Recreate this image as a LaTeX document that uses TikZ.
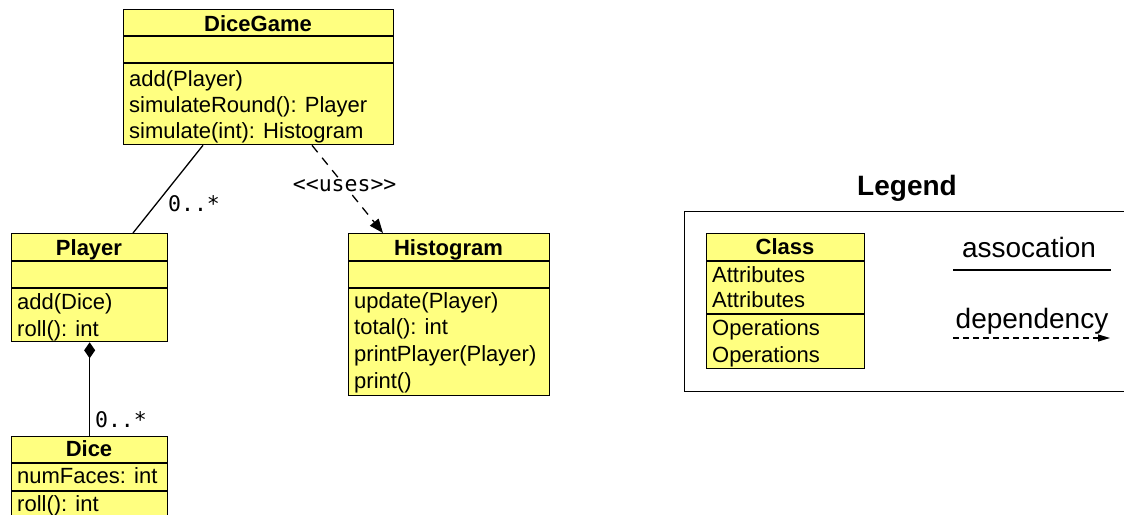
\documentclass[tikz,border=0pt]{standalone}
\usepackage{fontspec}
\setmainfont{Liberation Sans}
\setmonofont{DejaVu Sans Mono}
\usetikzlibrary{arrows.meta,calc}
\definecolor{umlyellow}{RGB}{255,255,128}
\tikzset{
 classbox/.style={draw=black, line width=1.3pt, fill=umlyellow, rectangle, inner sep=0pt, anchor=north west},
 sepline/.style={draw=black, line width=1.3pt},
 head/.style={font=\fontsize{22}{27}\selectfont\bfseries, anchor=base, inner sep=0pt},
 item/.style={font=\fontsize{22}{27}\selectfont, anchor=base west, inner sep=0pt},
 mult/.style={font=\fontsize{21.5}{26}\selectfont\ttfamily, inner sep=0pt},
 conn/.style={line width=1.3pt},
 dep/.style={conn, dash pattern=on 9pt off 7pt, -{Triangle[length=14pt,width=11pt]}},
}
\begin{document}
\begin{tikzpicture}[x=1pt,y=-1pt]
\useasboundingbox (0,0) rectangle (1124,514);
\clip (0,0) rectangle (1124,514);

% DiceGame
\node[classbox, minimum width=270pt, minimum height=135pt] (dg) at (123,9) {};
\draw[sepline] (123,36) -- (393,36);
\draw[sepline] (123,63) -- (393,63);
\node[head] (dgh) at (258,31) {DiceGame};
\node[item] (dg1) at (129,86) {add(Player)};
\node[item] (dg2) at (129,112) {simulateRound(): Player};
\node[item] (dg3) at (129,138) {simulate(int): Histogram};

% Player
\node[classbox, minimum width=156pt, minimum height=108pt] (pl) at (11,233) {};
\draw[sepline] (11,261) -- (167,261);
\draw[sepline] (11,288) -- (167,288);
\node[head] (plh) at (89,255) {Player};
\node[item] (pl1) at (17,309) {add(Dice)};
\node[item] (pl2) at (17,336) {roll(): int};

% Dice
\node[classbox, minimum width=156pt, minimum height=110pt] (dice) at (11,436) {};
\draw[sepline] (11,463) -- (167,463);
\draw[sepline] (11,491) -- (167,491);
\node[head] (diceh) at (89,456) {Dice};
\node[item] (dice1) at (17,483) {numFaces: int};
\node[item] (dice2) at (17,511) {roll(): int};

% Histogram
\node[classbox, minimum width=201pt, minimum height=162pt] (hist) at (348,233) {};
\draw[sepline] (348,261) -- (549,261);
\draw[sepline] (348,288) -- (549,288);
\node[head] (histh) at (448.5,255) {Histogram};
\node[item] (h1) at (354,308) {update(Player)};
\node[item] (h2) at (354,334) {total(): int};
\node[item] (h3) at (354,361) {printPlayer(Player)};
\node[item] (h4) at (354,388) {print()};

% connectors
\draw[conn] ($(dg.south west)+(80,0)$) -- ($(pl.north west)+(122,0)$);
\node[mult] (m1) at (194,204) {0..*};
\draw[conn, {Diamond[length=16pt,width=11pt]}-] (pl.south) -- (dice.north);
\node[mult] (m2) at (121,420) {0..*};
\draw[dep] ($(dg.south west)+(189,0)$) -- node[pos=0.46, fill=white, mult, inner sep=1pt] (uses) {<<uses>>} ($(hist.north west)+(35,0)$);

% Legend
\node[font=\fontsize{28}{32}\selectfont\bfseries, anchor=base, inner sep=0pt] (legendtitle) at (907,195) {Legend};
\node[draw=black, line width=1.3pt, minimum width=480pt, minimum height=180pt, anchor=north west, inner sep=0pt] (legendframe) at (684,211) {};

\node[classbox, minimum width=158pt, minimum height=135pt] (lc) at (706,233) {};
\draw[sepline] (706,261) -- (864,261);
\draw[sepline] (706,314) -- (864,314);
\node[head] (lch) at (785,254) {Class};
\node[item] (lc1) at (712,282) {Attributes};
\node[item] (lc2) at (712,307) {Attributes};
\node[item] (lc3) at (712,335) {Operations};
\node[item] (lc4) at (712,362) {Operations};

\node[font=\fontsize{28}{32}\selectfont, anchor=base, inner sep=0pt] (assoclabel) at (1029,257) {assocation};
\coordinate (a1) at (953,270);
\coordinate (a2) at (1111,270);
\draw[conn] (a1) -- (a2);
\node[font=\fontsize{28}{32}\selectfont, anchor=base, inner sep=0pt] (deplabel) at (1032,328) {dependency};
\coordinate (d1) at (953,338);
\coordinate (d2) at (1110,338);
\draw[conn, line width=1.1pt, dash pattern=on 6pt off 4pt, -{Triangle[length=12pt,width=7pt]}] (d1) -- (d2);
\end{tikzpicture}
\end{document}
